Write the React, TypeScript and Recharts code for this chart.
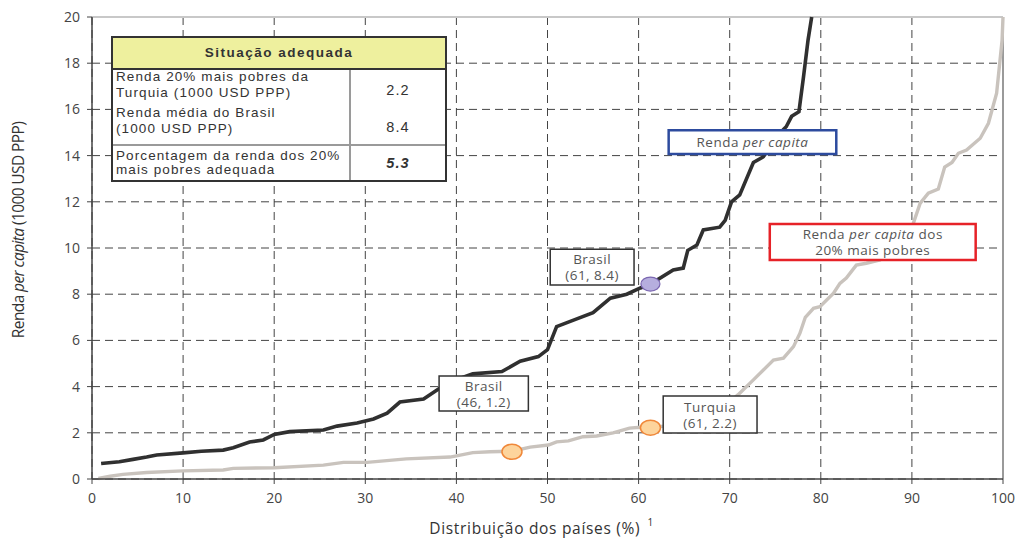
import React from 'react';
import {
  LineChart,
  Line,
  XAxis,
  YAxis,
  CartesianGrid,
  ReferenceArea,
  ReferenceLine,
  Scatter,
} from 'recharts';

// Renda per capita (1000 USD PPP) by country distribution (%)
const perCapita = [
  { x: 1, y: 0.67 }, { x: 3, y: 0.75 }, { x: 4.5, y: 0.85 }, { x: 6, y: 0.95 },
  { x: 7.1, y: 1.04 }, { x: 10, y: 1.13 }, { x: 12, y: 1.2 }, { x: 14.4, y: 1.25 },
  { x: 15.5, y: 1.35 }, { x: 17.3, y: 1.6 }, { x: 18.8, y: 1.69 }, { x: 20, y: 1.93 },
  { x: 21.7, y: 2.05 }, { x: 25.4, y: 2.12 }, { x: 26.9, y: 2.29 }, { x: 29.1, y: 2.42 },
  { x: 30.9, y: 2.6 }, { x: 32.4, y: 2.85 }, { x: 33.8, y: 3.33 }, { x: 36.4, y: 3.46 },
  { x: 38.2, y: 3.94 }, { x: 40, y: 4.3 }, { x: 41.8, y: 4.55 }, { x: 45, y: 4.65 },
  { x: 47, y: 5.1 }, { x: 49, y: 5.3 }, { x: 50, y: 5.6 }, { x: 51, y: 6.6 },
  { x: 53, y: 6.9 }, { x: 55, y: 7.2 }, { x: 56.9, y: 7.83 }, { x: 58.7, y: 8.0 },
  { x: 60.2, y: 8.27 }, { x: 61.3, y: 8.44 }, { x: 63.8, y: 9.05 }, { x: 64.9, y: 9.13 },
  { x: 65.4, y: 9.9 }, { x: 66.4, y: 10.13 }, { x: 67.1, y: 10.78 }, { x: 68.9, y: 10.9 },
  { x: 69.5, y: 11.2 }, { x: 70.2, y: 12.0 }, { x: 71.1, y: 12.3 }, { x: 72.6, y: 13.7 },
  { x: 73.7, y: 13.95 }, { x: 75.5, y: 14.97 }, { x: 76.2, y: 15.25 }, { x: 76.8, y: 15.7 },
  { x: 77.6, y: 15.9 }, { x: 78.1, y: 17.4 }, { x: 78.6, y: 19.0 }, { x: 79.0, y: 20 },
];

// Renda per capita dos 20% mais pobres
const poorest20 = [
  { x: 0.7, y: 0.02 }, { x: 2, y: 0.12 }, { x: 3.4, y: 0.2 }, { x: 6, y: 0.28 },
  { x: 10, y: 0.35 }, { x: 14.4, y: 0.39 }, { x: 15.5, y: 0.46 }, { x: 20, y: 0.49 },
  { x: 25.4, y: 0.6 }, { x: 27.6, y: 0.72 }, { x: 30.2, y: 0.72 }, { x: 34.5, y: 0.87 },
  { x: 39.3, y: 0.95 }, { x: 40, y: 1.0 }, { x: 41.8, y: 1.14 }, { x: 43.7, y: 1.18 },
  { x: 46.1, y: 1.2 }, { x: 48.1, y: 1.38 }, { x: 50.1, y: 1.47 }, { x: 51, y: 1.61 },
  { x: 52.3, y: 1.65 }, { x: 53.9, y: 1.83 }, { x: 55.4, y: 1.86 }, { x: 57.2, y: 2.0 },
  { x: 59, y: 2.2 }, { x: 60.2, y: 2.24 }, { x: 61.3, y: 2.22 }, { x: 63, y: 2.3 },
  { x: 65, y: 2.45 }, { x: 67, y: 2.7 }, { x: 69, y: 3.0 }, { x: 70.9, y: 3.64 },
  { x: 72.6, y: 4.29 }, { x: 74.8, y: 5.15 }, { x: 75.9, y: 5.23 }, { x: 77, y: 5.73 },
  { x: 77.7, y: 6.3 }, { x: 78.3, y: 7.0 }, { x: 79.2, y: 7.39 }, { x: 79.9, y: 7.46 },
  { x: 81.4, y: 8.04 }, { x: 82.1, y: 8.47 }, { x: 82.8, y: 8.7 }, { x: 83.9, y: 9.26 },
  { x: 85, y: 9.34 }, { x: 86.5, y: 9.48 }, { x: 88, y: 10.0 }, { x: 89.2, y: 10.6 },
  { x: 90.1, y: 11.0 }, { x: 90.9, y: 11.93 }, { x: 91.8, y: 12.37 }, { x: 92.9, y: 12.55 },
  { x: 93.6, y: 13.5 }, { x: 94.4, y: 13.7 }, { x: 95.1, y: 14.1 }, { x: 96, y: 14.24 },
  { x: 97.5, y: 14.75 }, { x: 98.4, y: 15.4 }, { x: 99.3, y: 16.7 }, { x: 99.9, y: 19.0 },
  { x: 100, y: 20 },
];

const brasilPoint = [{ x: 61.3, y: 8.44 }];
const poorPoints = [{ x: 46.1, y: 1.18 }, { x: 61.3, y: 2.22 }];

const xTicks = [0, 10, 20, 30, 40, 50, 60, 70, 80, 90, 100];
const yTicks = [0, 2, 4, 6, 8, 10, 12, 14, 16, 18, 20];

const tableTitle = 'Situação adequada';
const tableRow1 = ['Renda 20% mais pobres da', 'Turquia (1000 USD PPP)'];
const tableRow1Value = '2.2';
const tableRow2 = ['Renda média do Brasil', '(1000 USD PPP)'];
const tableRow2Value = '8.4';
const tableRow3 = ['Porcentagem da renda dos 20%', 'mais pobres adequada'];
const tableRow3Value = '5.3';

type Seg = { t: string; i?: boolean };

const CALLOUT_FONT = "'Open Sans', 'DejaVu Sans', sans-serif";

const boxLabel = (lines: Seg[][]) => (props: any) => {
  const vb = props.viewBox || {};
  const cx = vb.x + vb.width / 2;
  const cy = vb.y + vb.height / 2;
  const lh = 16;
  const start = cy - ((lines.length - 1) * lh) / 2;
  return (
    <g>
      {lines.map((segs, li) => (
        <text
          key={li}
          x={cx}
          y={start + li * lh}
          textAnchor="middle"
          dominantBaseline="central"
          fontFamily={CALLOUT_FONT}
          fontSize={13.5}
          letterSpacing={0.5}
          fill="#555"
        >
          {segs.map((s, si) => (
            <tspan key={si} fontStyle={s.i ? 'italic' : 'normal'}>
              {s.t}
            </tspan>
          ))}
        </text>
      ))}
    </g>
  );
};

const purpleDot = (props: any) => (
  <ellipse cx={props.cx} cy={props.cy} rx={9.5} ry={7} fill="#b6aede" stroke="#7a66b0" strokeWidth={1.2} />
);
const orangeDot = (props: any) => (
  <ellipse cx={props.cx} cy={props.cy} rx={10} ry={7.5} fill="#fdd49c" stroke="#f0883a" strokeWidth={1.5} />
);

const xTitle = (props: any) => {
  const vb = props.viewBox || {};
  const cx = vb.x + vb.width / 2 - 6;
  return (
    <text
      x={cx}
      y={vb.y + 55}
      textAnchor="middle"
      fontFamily={CALLOUT_FONT}
      fontSize={15.5}
      letterSpacing={0.7}
      fill="#333"
    >
      Distribuição dos países (%)
      <tspan dx={7} dy={-8} fontSize={10}>1</tspan>
    </text>
  );
};

const yTitle = (props: any) => {
  const vb = props.viewBox || {};
  const x = 18;
  const y = vb.y + vb.height / 2 - 18;
  return (
    <text
      x={x}
      y={y}
      transform={`rotate(-90 ${x} ${y})`}
      textAnchor="middle"
      dominantBaseline="central"
      fontFamily={CALLOUT_FONT}
      fontSize={15.5}
      letterSpacing={-0.6}
      fill="#333"
    >
      Renda <tspan fontStyle="italic">per capita</tspan> (1000 USD PPP)
    </text>
  );
};

const TABLE_FONT = "'Liberation Sans', Arial, sans-serif";

const lineStyle: React.CSSProperties = {
  position: 'absolute',
  fontFamily: TABLE_FONT,
  fontSize: 13.5,
  letterSpacing: 1.1,
  color: '#333',
  whiteSpace: 'nowrap',
};

function Table() {
  return (
    <div
      style={{
        position: 'absolute',
        left: 111,
        top: 36,
        width: 336,
        height: 146,
        boxSizing: 'border-box',
        border: '2px solid #333',
        background: '#fff',
      }}
    >
      <div
        style={{
          position: 'absolute',
          left: 0,
          top: 0,
          width: 332,
          height: 30,
          background: '#eef09e',
          borderBottom: '2px solid #333',
          textAlign: 'center',
          lineHeight: '30px',
          fontFamily: TABLE_FONT,
          fontWeight: 'bold',
          fontSize: 13.5,
          letterSpacing: 1.5,
          color: '#333',
        }}
      >
        {tableTitle}
      </div>
      {/* vertical separator */}
      <div style={{ position: 'absolute', left: 236, top: 32, width: 2, height: 110, background: '#9a9a9a' }} />
      {/* horizontal separator */}
      <div style={{ position: 'absolute', left: 0, top: 106, width: 332, height: 2, background: '#9a9a9a' }} />

      <div style={{ ...lineStyle, left: 3, top: 31, lineHeight: '16px' }}>
        {tableRow1.map((l, i) => (<div key={i}>{l}</div>))}
      </div>
      <div style={{ ...lineStyle, left: 3, top: 67, lineHeight: '16.3px' }}>
        {tableRow2.map((l, i) => (<div key={i}>{l}</div>))}
      </div>
      <div style={{ ...lineStyle, left: 3, top: 111, lineHeight: '13.5px' }}>
        {tableRow3.map((l, i) => (<div key={i}>{l}</div>))}
      </div>

      <div style={{ ...lineStyle, left: 238, width: 94, textAlign: 'center', top: 44, fontSize: 14.5, lineHeight: '16px' }}>
        {tableRow1Value}
      </div>
      <div style={{ ...lineStyle, left: 238, width: 94, textAlign: 'center', top: 81, fontSize: 14.5, lineHeight: '16px' }}>
        {tableRow2Value}
      </div>
      <div
        style={{
          ...lineStyle,
          left: 238,
          width: 94,
          textAlign: 'center',
          top: 117,
          fontSize: 14.5,
          lineHeight: '16px',
          fontWeight: 'bold',
          fontStyle: 'italic',
        }}
      >
        {tableRow3Value}
      </div>
    </div>
  );
}

export default function App() {
  return (
    <div style={{ position: 'absolute', left: 0, top: 0, width: 1019, height: 549, background: '#fff' }}>
      <LineChart width={1019} height={549} margin={{ top: 17, right: 16, bottom: 40, left: 0 }}>
        <ReferenceLine y={20} stroke="#c8c8c8" strokeWidth={2} />
        <CartesianGrid stroke="#444" strokeDasharray="8 5" strokeWidth={1} />
        <ReferenceLine x={100} stroke="#9a9a9a" strokeWidth={2} />
        <XAxis
          type="number"
          dataKey="x"
          domain={[0, 100]}
          ticks={xTicks}
          height={30}
          axisLine={{ stroke: '#444', strokeWidth: 1.5 }}
          tickLine={{ stroke: '#444' }}
          tickSize={5}
          tickMargin={9}
          tick={{ fontFamily: CALLOUT_FONT, fontSize: 14, fill: '#444' }}
          label={xTitle}
        />
        <YAxis
          type="number"
          dataKey="y"
          domain={[0, 20]}
          ticks={yTicks}
          width={92}
          axisLine={{ stroke: '#444', strokeWidth: 1.5 }}
          tickLine={{ stroke: '#444' }}
          tickSize={5}
          tickMargin={7}
          tick={{ fontFamily: CALLOUT_FONT, fontSize: 14, fill: '#444' }}
          label={yTitle}
        />
        <Line
          data={poorest20}
          dataKey="y"
          type="linear"
          stroke="#c9c3bd"
          strokeWidth={3.4}
          dot={false}
          isAnimationActive={false}
        />
        <Line
          data={perCapita}
          dataKey="y"
          type="linear"
          stroke="#303030"
          strokeWidth={3.6}
          dot={false}
          isAnimationActive={false}
        />
        <ReferenceArea
          x1={50.3} x2={59.5} y1={8.4} y2={9.95}
          fill="#fff" fillOpacity={1} stroke="#333" strokeWidth={1.5}
          zIndex={450}
          label={boxLabel([[{ t: 'Brasil' }], [{ t: '(61, 8.4)' }]])}
        />
        <ReferenceArea
          x1={38.1} x2={47.9} y1={2.94} y2={4.46}
          fill="#fff" fillOpacity={1} stroke="#333" strokeWidth={1.5}
          zIndex={450}
          label={boxLabel([[{ t: 'Brasil' }], [{ t: '(46, 1.2)' }]])}
        />
        <ReferenceArea
          x1={62.7} x2={73.0} y1={1.99} y2={3.59}
          fill="#fff" fillOpacity={1} stroke="#333" strokeWidth={1.5}
          zIndex={450}
          label={boxLabel([[{ t: 'Turquia' }], [{ t: '(61, 2.2)' }]])}
        />
        <ReferenceArea
          x1={63.3} x2={81.7} y1={14.07} y2={15.1}
          fill="#fff" fillOpacity={1} stroke="#2d4b9e" strokeWidth={2.5}
          zIndex={450}
          label={boxLabel([[{ t: 'Renda ' }, { t: 'per capita', i: true }]])}
        />
        <ReferenceArea
          x1={74.4} x2={97.0} y1={9.48} y2={11.04}
          fill="#fff" fillOpacity={1} stroke="#e62228" strokeWidth={2.5}
          zIndex={450}
          label={boxLabel([
            [{ t: 'Renda ' }, { t: 'per capita', i: true }, { t: ' dos' }],
            [{ t: '20% mais pobres' }],
          ])}
        />
        <Scatter data={brasilPoint} shape={purpleDot} isAnimationActive={false} />
        <Scatter data={poorPoints} shape={orangeDot} isAnimationActive={false} />
      </LineChart>
      <Table />
    </div>
  );
}
